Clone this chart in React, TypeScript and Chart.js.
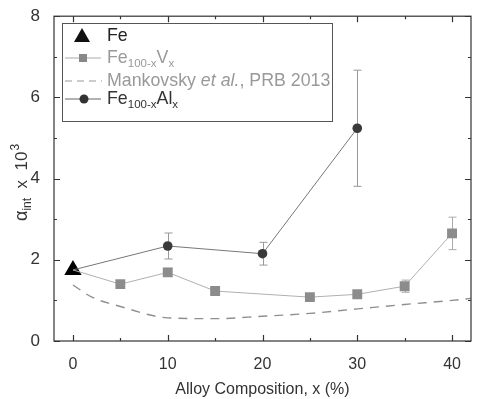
import React, { useEffect, useRef } from "react";
import { Chart, registerables } from "chart.js";

Chart.register(...registerables);

// Fe100-xVx damping values
const vComposition = [0, 5, 10, 15, 25, 30, 35, 40];
const vAlpha = [1.75, 1.4, 1.69, 1.23, 1.08, 1.15, 1.35, 2.65];
const vError = [0, 0.06, 0.1, 0.05, 0.05, 0.06, 0.15, 0.4];

// Fe100-xAlx damping values
const alComposition = [0, 10, 20, 30];
const alAlpha = [1.75, 2.34, 2.15, 5.24];
const alError = [0, 0.32, 0.28, 1.43];

// Pure Fe reference point
const feComposition = [0];
const feAlpha = [1.75];

// Mankovsky et al., PRB 2013 calculation
const calcComposition = [0, 2, 5, 10, 15, 20, 25, 30, 35, 40, 42];
const calcAlpha = [1.38, 1.08, 0.85, 0.57, 0.55, 0.61, 0.68, 0.79, 0.9, 1.0, 1.05];

const xTicks = [0, 10, 20, 30, 40];
const yTicks = [0, 2, 4, 6, 8];

const FONT = "'Liberation Sans', Arial, sans-serif";
const AXIS_COLOR = "#333";

const pts = (xs: number[], ys: number[]) => xs.map((x, i) => ({ x, y: ys[i] }));

const errorBars = {
  id: "errorBars",
  beforeDatasetsDraw(chart: any) {
    const { ctx, scales } = chart;
    const xs = scales.x;
    const ys = scales.y;
    const draw = (cx: number[], cy: number[], err: number[], color: string) => {
      ctx.save();
      ctx.strokeStyle = color;
      ctx.lineWidth = 1;
      cx.forEach((x, i) => {
        if (!err[i]) return;
        const px = Math.round(xs.getPixelForValue(x)) + 0.5;
        const top = ys.getPixelForValue(cy[i] + err[i]);
        const bot = ys.getPixelForValue(cy[i] - err[i]);
        ctx.beginPath();
        ctx.moveTo(px, top);
        ctx.lineTo(px, bot);
        ctx.moveTo(px - 4, top);
        ctx.lineTo(px + 4, top);
        ctx.moveTo(px - 4, bot);
        ctx.lineTo(px + 4, bot);
        ctx.stroke();
      });
      ctx.restore();
    };
    draw(vComposition, vAlpha, vError, "#aaa");
    draw(alComposition, alAlpha, alError, "#999");
  },
};

const frameAndTicks = {
  id: "frameAndTicks",
  afterDraw(chart: any) {
    const { ctx, chartArea: a, scales } = chart;
    const xs = scales.x;
    const ys = scales.y;
    ctx.save();
    ctx.strokeStyle = AXIS_COLOR;
    ctx.lineWidth = 1.2;
    ctx.strokeRect(a.left, a.top, a.right - a.left, a.bottom - a.top);
    ctx.beginPath();
    for (let v = 0; v <= 40; v += 5) {
      const len = v % 10 === 0 ? 6 : 3;
      const px = Math.round(xs.getPixelForValue(v)) + 0.5;
      ctx.moveTo(px, a.bottom);
      ctx.lineTo(px, a.bottom - len);
      ctx.moveTo(px, a.top);
      ctx.lineTo(px, a.top + len);
    }
    for (let v = 0; v <= 8; v += 1) {
      const len = v % 2 === 0 ? 6 : 3;
      const py = Math.round(ys.getPixelForValue(v)) + 0.5;
      ctx.moveTo(a.left, py);
      ctx.lineTo(a.left + len, py);
      ctx.moveTo(a.right, py);
      ctx.lineTo(a.right - len, py);
    }
    ctx.stroke();

    // y axis title: alpha_int x 10^3
    ctx.save();
    ctx.translate(21, 178);
    ctx.rotate(-Math.PI / 2);
    ctx.fillStyle = AXIS_COLOR;
    ctx.textBaseline = "alphabetic";
    let x = -43;
    ctx.font = `18px ${FONT}`;
    ctx.fillText("α", x, 6);
    x += ctx.measureText("α").width;
    ctx.font = `12px ${FONT}`;
    ctx.fillText("int", x, 10);
    x += ctx.measureText("int").width;
    ctx.font = `17px ${FONT}`;
    ctx.fillText("  x  10", x, 6);
    x += ctx.measureText("  x  10").width;
    ctx.font = `12px ${FONT}`;
    ctx.fillText("3", x + 1, -2);
    ctx.restore();

    // legend
    const lx = 62, ly = 23, lw = 270, lh = 98;
    ctx.fillStyle = "#fff";
    ctx.fillRect(lx, ly, lw, lh);
    ctx.strokeStyle = "#555";
    ctx.lineWidth = 1;
    ctx.strokeRect(lx + 0.5, ly + 0.5, lw, lh);

    const rows = [36, 58, 81, 99];
    const tx = 107;
    // Fe
    ctx.fillStyle = "#111";
    ctx.beginPath();
    ctx.moveTo(82, rows[0] - 8);
    ctx.lineTo(90, rows[0] + 6);
    ctx.lineTo(74, rows[0] + 6);
    ctx.closePath();
    ctx.fill();
    // V series
    ctx.strokeStyle = "#aaa";
    ctx.beginPath();
    ctx.moveTo(65, rows[1]);
    ctx.lineTo(101, rows[1]);
    ctx.stroke();
    ctx.fillStyle = "#888";
    ctx.fillRect(79, rows[1] - 4, 8, 8);
    // calc dashed
    ctx.strokeStyle = "#999";
    ctx.setLineDash([7, 5]);
    ctx.beginPath();
    ctx.moveTo(65, rows[2]);
    ctx.lineTo(102, rows[2]);
    ctx.stroke();
    ctx.setLineDash([]);
    // Al series
    ctx.strokeStyle = "#666";
    ctx.beginPath();
    ctx.moveTo(65, rows[3]);
    ctx.lineTo(101, rows[3]);
    ctx.stroke();
    ctx.fillStyle = "#333";
    ctx.beginPath();
    ctx.arc(84, rows[3], 4.5, 0, Math.PI * 2);
    ctx.fill();

    const run = (parts: [string, string, number][], y: number, color: string) => {
      let cx = tx;
      ctx.fillStyle = color;
      for (const [t, f, dy] of parts) {
        ctx.font = f;
        ctx.fillText(t, cx, y + dy);
        cx += ctx.measureText(t).width;
      }
    };
    ctx.textBaseline = "middle";
    const big = `17.8px ${FONT}`;
    const sub = `11.5px ${FONT}`;
    run([["Fe", big, 0]], rows[0], "#222");
    run([["Fe", big, 0], ["100-x", sub, 6], ["V", big, 0], ["x", sub, 6]], rows[1], "#999");
    run([["Mankovsky ", big, 0], ["et al.", `italic 17.8px ${FONT}`, 0], [", PRB 2013", big, 0]], rows[2], "#999");
    run([["Fe", big, 0], ["100-x", sub, 6], ["Al", big, 0], ["x", sub, 6]], rows[3], "#333");
    ctx.restore();
  },
};

export default function App() {
  const ref = useRef<HTMLCanvasElement>(null);
  useEffect(() => {
    document.body.style.margin = "0";
    const chart = new Chart(ref.current!, {
      type: "line",
      data: {
        datasets: [
          {
            label: "Mankovsky et al., PRB 2013",
            data: pts(calcComposition, calcAlpha),
            borderColor: "#8f8f8f",
            borderWidth: 1.4,
            borderDash: [9, 7],
            pointRadius: 0,
            tension: 0.4,
            cubicInterpolationMode: "monotone",
          },
          {
            label: "Fe100-xVx",
            data: pts(vComposition, vAlpha),
            borderColor: "#b0b0b0",
            borderWidth: 1,
            backgroundColor: "#8c8c8c",
            pointStyle: "rect",
            pointRadius: vComposition.map((c) => (c === 0 ? 0 : 7)),
            pointBorderWidth: 0,
          },
          {
            label: "Fe100-xAlx",
            data: pts(alComposition, alAlpha),
            borderColor: "#777",
            borderWidth: 1,
            backgroundColor: "#3a3a3a",
            pointStyle: "circle",
            pointRadius: alComposition.map((c) => (c === 0 ? 0 : 4.8)),
            pointBorderWidth: 0,
          },
          {
            label: "Fe",
            data: pts(feComposition, feAlpha),
            showLine: false,
            backgroundColor: "#000",
            pointStyle: "triangle",
            pointRadius: 10,
            pointBorderWidth: 0,
          },
        ],
      },
      options: {
        animation: false,
        responsive: false,
        layout: { padding: { top: 15, right: 2, left: 0, bottom: 0 } },
        plugins: { legend: { display: false }, tooltip: { enabled: false } },
        scales: {
          x: {
            type: "linear",
            min: -2,
            max: 42,
            afterFit: (s: any) => { s.height = 58; },
            afterBuildTicks: (s: any) => { s.ticks = xTicks.map((v) => ({ value: v })); },
            grid: { display: false },
            border: { display: false },
            ticks: { color: AXIS_COLOR, font: { family: FONT, size: 16 }, padding: 6, maxRotation: 0 },
            title: {
              display: true,
              text: "Alloy Composition, x (%)",
              color: AXIS_COLOR,
              font: { family: FONT, size: 16 },
              padding: { top: 2, bottom: 0 },
            },
          },
          y: {
            min: 0,
            max: 8,
            afterFit: (s: any) => { s.width = 54; },
            afterBuildTicks: (s: any) => { s.ticks = yTicks.map((v) => ({ value: v })); },
            grid: { display: false },
            border: { display: false },
            ticks: { color: AXIS_COLOR, font: { family: FONT, size: 17 }, padding: 6 },
          },
        },
      },
      plugins: [errorBars, frameAndTicks],
    });
    return () => chart.destroy();
  }, []);
  return (
    <div style={{ width: 481, height: 399, background: "#fff" }}>
      <canvas ref={ref} width={481} height={399} />
    </div>
  );
}
